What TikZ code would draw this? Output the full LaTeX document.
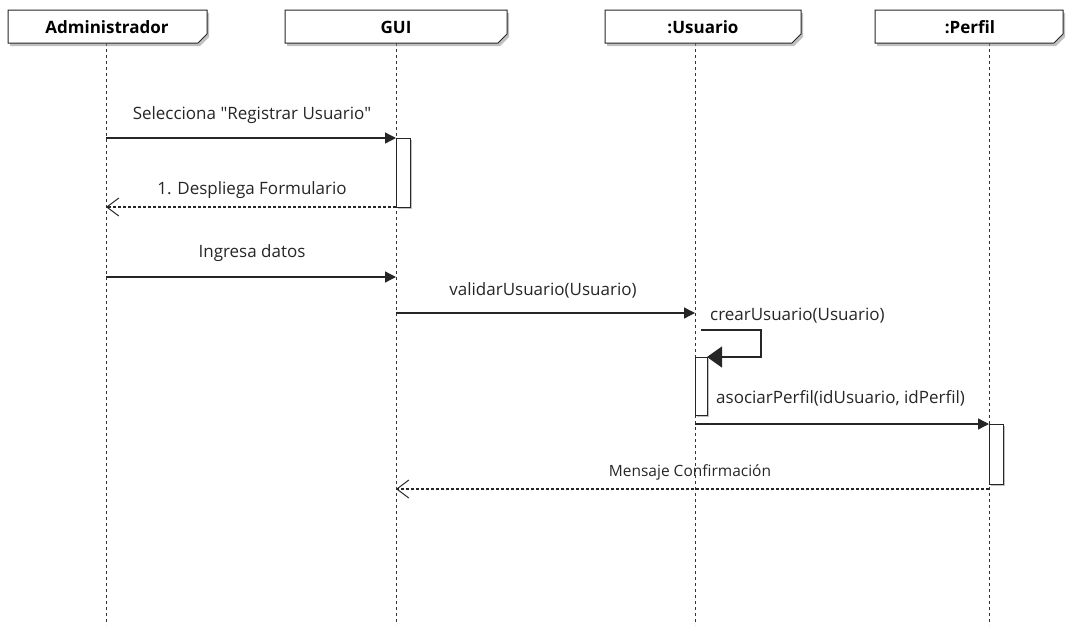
\documentclass[tikz,border=0pt]{standalone}
\usepackage{fontspec}
\setmainfont{Open Sans}
\usetikzlibrary{arrows.meta,shadows,calc}
\begin{document}
\begin{tikzpicture}[x=1pt,y=-1pt,
  lifeline/.style={draw=black!80, dash pattern=on 3pt off 3pt, line width=0.8pt},
  header/.style={draw=black!85, fill=white, line width=1pt,
    drop shadow={shadow xshift=2pt, shadow yshift=-3pt, fill=black!45, opacity=0.55}},
  actbox/.style={draw=black!85, fill=white, line width=1pt,
    drop shadow={shadow xshift=2pt, shadow yshift=-2pt, fill=black!45, opacity=0.55}},
  msg/.style={draw=black!85, line width=1.3pt, -{Triangle[length=11pt,width=11pt]}},
  reply/.style={draw=black!85, line width=1.2pt, dash pattern=on 3pt off 2pt,
    -{Straight Barb[length=12pt,width=18pt,line width=1pt]}},
  lbl/.style={font=\fontsize{17}{19}\selectfont, text=black!85, inner sep=0pt},
  hlbl/.style={font=\fontsize{17}{19}\selectfont\bfseries, text=black, inner sep=0pt}]

\useasboundingbox (0,0) rectangle (1066,625);

% lifeline anchors
\coordinate (adminTop) at (106,43);  \coordinate (adminBot) at (106,625);
\coordinate (guiTop)   at (396,43);  \coordinate (guiBot)   at (396,625);
\coordinate (usrTop)   at (695,43);  \coordinate (usrBot)   at (695,625);
\coordinate (perTop)   at (989,43);  \coordinate (perBot)   at (989,625);

% lifelines
\draw[lifeline] (adminTop) -- (adminBot);
\draw[lifeline] (guiTop) -- (guiBot);
\draw[lifeline] (usrTop) -- (usrBot);
\draw[lifeline] (perTop) -- (perBot);

% participant headers with cut corner
\path[header] (8,10) -- (207,10) -- (207,34) -- (198,43) -- (8,43) -- cycle;
\path[header] (285,10) -- (507,10) -- (507,34) -- (498,43) -- (285,43) -- cycle;
\path[header] (605,10) -- (801,10) -- (801,34) -- (792,43) -- (605,43) -- cycle;
\path[header] (875,10) -- (1063,10) -- (1063,34) -- (1054,43) -- (875,43) -- cycle;
\node[hlbl] (hAdmin) at (107,27) {Administrador};
\node[hlbl] (hGui)   at (396,27) {GUI};
\node[hlbl] (hUsr)   at (703,27) {:Usuario};
\node[hlbl] (hPer)   at (970,27) {:Perfil};

% activation bars
\path[actbox] (396,138) rectangle (410,207);
\path[actbox] (695,357) rectangle (707,415);
\path[actbox] (989,424) rectangle (1003,484);

% message end points
\coordinate (m1a) at (106,138); \coordinate (m1b) at (396,138);
\coordinate (m2a) at (396,207); \coordinate (m2b) at (106,207);
\coordinate (m3a) at (106,277); \coordinate (m3b) at (396,277);
\coordinate (m4a) at (396,313); \coordinate (m4b) at (695,313);
\coordinate (s1) at (701,330); \coordinate (s2) at (761,330);
\coordinate (s3) at (761,357); \coordinate (s4) at (707,357);
\coordinate (m6a) at (695,424); \coordinate (m6b) at (989,424);
\coordinate (m7a) at (989,489); \coordinate (m7b) at (396,489);

% messages
\draw[msg] (m1a) -- (m1b);
\node[lbl] (t1) at (252,115) {Selecciona \textquotedbl Registrar Usuario\textquotedbl};
\draw[reply] (m2a) -- (m2b);
\node[lbl] (t2) at (252,190) {1. Despliega Formulario};
\draw[msg] (m3a) -- (m3b);
\node[lbl] (t3) at (252,253) {Ingresa datos};
\draw[msg] (m4a) -- (m4b);
\node[lbl] (t4) at (543,290) {validarUsuario(Usuario)};
\draw[draw=black!85, line width=1.3pt, -{Triangle[length=15pt,width=21pt]}] (s1) -- (s2) -- (s3) -- (s4);
\node[lbl, anchor=west] (t5) at (710,316) {crearUsuario(Usuario)};
\draw[msg] (m6a) -- (m6b);
\node[lbl, anchor=west] (t6) at (716,398) {asociarPerfil(idUsuario, idPerfil)};
\draw[reply] (m7a) -- (m7b);
\node[lbl, font=\fontsize{15.5}{18}\selectfont] (t7) at (690,472) {Mensaje Confirmación};
\end{tikzpicture}
\end{document}
